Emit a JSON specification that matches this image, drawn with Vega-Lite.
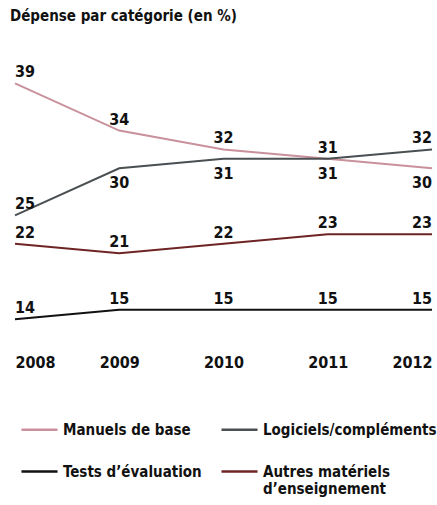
{
  "$schema": "https://vega.github.io/schema/vega-lite/v6.json",
  "autosize": "none",
  "width": 417,
  "height": 264,
  "padding": {"left": 15, "top": 74, "right": 5, "bottom": 167},
  "background": "white",
  "config": {
    "view": {"stroke": null},
    "font": "Liberation Sans Narrow, DejaVu Sans Condensed, Roboto Condensed, Roboto, sans-serif"
  },
  "title": {
    "text": "Dépense par catégorie (en %)",
    "anchor": "start",
    "frame": "group",
    "dx": -5,
    "offset": 40,
    "fontSize": 15,
    "fontWeight": "bold",
    "color": "#111"
  },
  "data": {
    "values": [
      {"series": "Manuels de base", "year": 2008, "value": 39},
      {"series": "Manuels de base", "year": 2009, "value": 34},
      {"series": "Manuels de base", "year": 2010, "value": 32},
      {"series": "Manuels de base", "year": 2011, "value": 31},
      {"series": "Manuels de base", "year": 2012, "value": 30},
      {"series": "Logiciels/compléments", "year": 2008, "value": 25},
      {"series": "Logiciels/compléments", "year": 2009, "value": 30},
      {"series": "Logiciels/compléments", "year": 2010, "value": 31},
      {"series": "Logiciels/compléments", "year": 2011, "value": 31},
      {"series": "Logiciels/compléments", "year": 2012, "value": 32},
      {"series": "Tests d’évaluation", "year": 2008, "value": 14},
      {"series": "Tests d’évaluation", "year": 2009, "value": 15},
      {"series": "Tests d’évaluation", "year": 2010, "value": 15},
      {"series": "Tests d’évaluation", "year": 2011, "value": 15},
      {"series": "Tests d’évaluation", "year": 2012, "value": 15},
      {"series": "Autres matériels d’enseignement", "year": 2008, "value": 22},
      {"series": "Autres matériels d’enseignement", "year": 2009, "value": 21},
      {"series": "Autres matériels d’enseignement", "year": 2010, "value": 22},
      {"series": "Autres matériels d’enseignement", "year": 2011, "value": 23},
      {"series": "Autres matériels d’enseignement", "year": 2012, "value": 23}
    ]
  },
  "encoding": {
    "x": {
      "field": "year",
      "type": "ordinal",
      "scale": {"type": "point", "padding": 0},
      "axis": {
        "title": null,
        "domain": false,
        "ticks": false,
        "labelAngle": 0,
        "labelPadding": 16,
        "labelFontSize": 16,
        "labelFontWeight": "bold",
        "labelColor": "#111",
        "labelAlign": {
          "condition": [
            {"test": "datum.label == '2008'", "value": "left"},
            {"test": "datum.label == '2012'", "value": "right"}
          ],
          "value": "center"
        }
      }
    },
    "y": {
      "field": "value",
      "type": "quantitative",
      "scale": {"domain": [12, 40], "zero": false, "nice": false},
      "axis": null
    }
  },
  "layer": [
    {
      "mark": {"type": "line", "strokeWidth": 2},
      "encoding": {
        "color": {
          "field": "series",
          "type": "nominal",
          "scale": {
            "domain": ["Manuels de base", "Logiciels/compléments", "Tests d’évaluation", "Autres matériels d’enseignement"],
            "range": ["#c8919c", "#4a4f52", "#111111", "#6e2424"]
          },
          "legend": {
            "title": null,
            "orient": "none",
            "legendX": 5,
            "legendY": 336,
            "direction": "horizontal",
            "columns": 2,
            "columnPadding": 14,
            "rowPadding": 14,
            "symbolType": "stroke",
            "symbolSize": 1300,
            "symbolStrokeWidth": 2.5,
            "labelFontSize": 15,
            "labelFontWeight": "bold",
            "labelColor": "#111",
            "labelOffset": 4,
            "labelLimit": 300,
            "labelExpr": "datum.label == 'Autres matériels d’enseignement' ? ['Autres matériels', 'd’enseignement'] : datum.label"
          }
        }
      }
    },
    {
      "mark": {
        "type": "text",
        "fontSize": 16,
        "fontWeight": "bold",
        "color": "#111",
        "baseline": "alphabetic",
        "align": {"expr": "datum.year == 2008 ? 'left' : datum.year == 2012 ? 'right' : 'center'"},
        "dy": {"expr": "((datum.series == 'Logiciels/compléments' && datum.year >= 2009 && datum.year <= 2011) || (datum.series == 'Manuels de base' && datum.year == 2012)) ? 20 : -6"}
      },
      "encoding": {
        "text": {"field": "value", "type": "quantitative"}
      }
    }
  ]
}
